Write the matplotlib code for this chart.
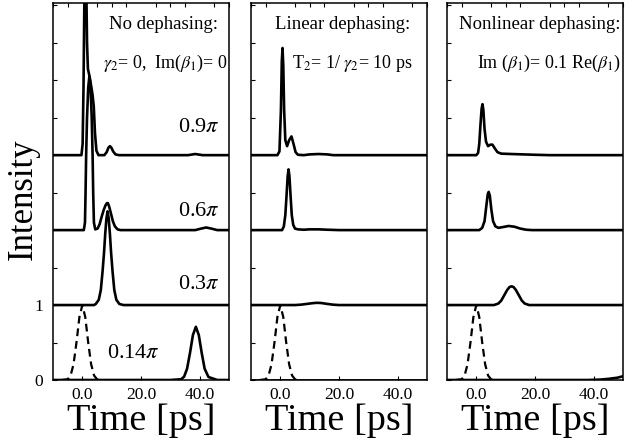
import numpy as np
import matplotlib.pyplot as plt
from matplotlib.ticker import MultipleLocator, FixedLocator, FormatStrFormatter

plt.rcParams['font.family'] = ['Liberation Serif', 'DejaVu Serif']
plt.rcParams['mathtext.fontset'] = 'stix'

# input pulse (dashed), same in all three panels
t_in = [-7, -5, -4, -3, -2, -1, 0, 1, 2, 3, 4, 5, 6]
I_in = [0, 0.01, 0.06, 0.21, 0.5, 0.84, 1.0, 0.84, 0.5, 0.21, 0.06, 0.01, 0]

# stacking of the four pulse areas
areas = ['0.14', '0.3', '0.6', '0.9']
offsets = [0, 1, 2, 3]

# --- no dephasing ---
t_nd_014 = [-10, 30, 33.7, 34.7, 35.7, 36.7, 37.7, 38.7, 39.7, 40.7, 41.7, 43, 46, 50]
I_nd_014 = [0, 0, 0.01, 0.045, 0.15, 0.36, 0.6, 0.71, 0.6, 0.36, 0.15, 0.04, 0, 0]
t_nd_03 = [-10, 4, 4.6, 5.6, 6.3, 6.9, 7.4, 7.8, 8.2, 8.6, 9.0, 9.4, 9.8, 10.3, 10.9, 11.6, 12.6, 14, 50]
I_nd_03 = [0, 0, 0.015, 0.07, 0.2, 0.45, 0.7, 0.95, 1.15, 1.25, 1.15, 0.95, 0.7, 0.45, 0.2, 0.07, 0.015, 0, 0]
t_nd_06 = [-10, 0.5, 0.9, 1.1, 1.3, 1.6, 2.0, 2.4, 2.8, 3.2, 3.5, 3.7, 3.95, 4.4, 5.2, 5.9, 6.6, 7.3, 7.9, 8.4, 8.7,
           9.1, 9.7, 10.4, 11.1, 12, 13, 38.5, 40.5, 42.2, 44, 46, 50]
I_nd_06 = [0, 0, 0.1, 0.5, 1.0, 1.5, 1.9, 2.05, 1.9, 1.5, 1.0, 0.5, 0.1, 0.01, 0.02, 0.08, 0.18, 0.27, 0.33, 0.36, 0.36,
           0.32, 0.23, 0.12, 0.05, 0.01, 0, 0, 0.02, 0.035, 0.02, 0, 0]
t_nd_09 = [-10, -0.3, 0.1, 0.4, 0.7, 1.0, 1.3, 1.6, 1.9, 2.3, 2.7, 3.1, 3.5, 3.9, 4.3, 4.8, 5.5, 7.5, 8.3, 8.9, 9.4,
           9.9, 10.5, 11.3, 12.5, 36, 38.5, 41, 50]
I_nd_09 = [0, 0, 0.15, 0.9, 2.1, 3.0, 2.4, 1.5, 1.15, 1.08, 1.0, 0.9, 0.8, 0.65, 0.3, 0.06, 0, 0, 0.04, 0.1, 0.12,
           0.1, 0.05, 0.01, 0, 0, 0.015, 0, 0]

# --- linear dephasing ---
t_ld_014 = [-10, 50]
I_ld_014 = [0, 0]
t_ld_03 = [-10, 5, 7, 9, 11, 12.5, 14, 16, 18, 20, 50]
I_ld_03 = [0, 0, 0.005, 0.015, 0.025, 0.03, 0.027, 0.015, 0.005, 0, 0]
t_ld_06 = [-10, 0.6, 1.2, 1.7, 2.1, 2.5, 2.8, 3.1, 3.5, 3.9, 4.4, 5, 6, 8, 10, 13, 16, 20, 50]
I_ld_06 = [0, 0, 0.05, 0.2, 0.45, 0.72, 0.81, 0.72, 0.45, 0.2, 0.07, 0.02, 0.01, 0.005, 0.01, 0.01, 0.005, 0, 0]
t_ld_09 = [-10, -1, -0.3, 0.2, 0.5, 0.75, 1.0, 1.3, 1.7, 2.3, 3.0, 3.8, 4.5, 5.2, 6, 8, 10, 13, 16, 18, 50]
I_ld_09 = [0, 0, 0.05, 0.6, 1.25, 1.43, 1.2, 0.6, 0.2, 0.12, 0.2, 0.25, 0.15, 0.04, 0.005, 0, 0.01, 0.015, 0.01, 0, 0]

# --- nonlinear dephasing ---
t_nl_014 = [-10, 38, 42, 45, 48, 50]
I_nl_014 = [0, 0, 0.005, 0.015, 0.03, 0.05]
t_nl_03 = [-10, 6, 7.5, 8.5, 9.5, 10.5, 11.3, 12, 12.7, 13.5, 14.5, 15.5, 16.5, 18, 50]
I_nl_03 = [0, 0, 0.02, 0.06, 0.13, 0.2, 0.24, 0.25, 0.24, 0.2, 0.13, 0.06, 0.02, 0, 0]
t_nl_06 = [-10, 1, 2, 2.8, 3.4, 3.9, 4.2, 4.6, 5.1, 5.7, 6.5, 7.5, 9, 11, 13, 15, 17, 19, 50]
I_nl_06 = [0, 0, 0.03, 0.12, 0.32, 0.48, 0.51, 0.46, 0.28, 0.12, 0.05, 0.03, 0.04, 0.055, 0.045, 0.02, 0.005, 0, 0]
t_nl_09 = [-10, 0, 0.6, 1.0, 1.4, 1.8, 2.1, 2.4, 2.8, 3.3, 4, 4.8, 5.5, 6.3, 7.2, 8.5, 12, 16, 20, 25, 50]
I_nl_09 = [0, 0, 0.03, 0.15, 0.4, 0.62, 0.68, 0.6, 0.35, 0.18, 0.12, 0.14, 0.14, 0.09, 0.04, 0.02, 0.015, 0.01, 0.005, 0, 0]

panels = [
    [(t_nd_014, I_nd_014), (t_nd_03, I_nd_03), (t_nd_06, I_nd_06), (t_nd_09, I_nd_09)],
    [(t_ld_014, I_ld_014), (t_ld_03, I_ld_03), (t_ld_06, I_ld_06), (t_ld_09, I_ld_09)],
    [(t_nl_014, I_nl_014), (t_nl_03, I_nl_03), (t_nl_06, I_nl_06), (t_nl_09, I_nl_09)],
]
titles = ['No dephasing:', 'Linear dephasing:', 'Nonlinear dephasing:']
subtitles = [r'$\gamma_2$= 0,  Im($\beta_1$)= 0',
             r'T$_2$= 1/ $\gamma_2$= 10 ps',
             r'Im ($\beta_1$)= 0.1 Re($\beta_1$)']
# right ends of the two text lines, axes fraction
title_x = [0.94, 0.905, 0.985]
sub_x = [0.99, 0.917, 0.985]

W, H = 636, 445
fig = plt.figure(figsize=(W / 100, H / 100), dpi=100)
lefts = [53, 251, 447]

for k in range(3):
    ax = fig.add_axes([lefts[k] / W, 65 / H, 176 / W, 377 / H])
    ax.plot(t_in, I_in, color='black', lw=1.6, ls=(0, (3.5, 2.2)))
    for (t, I), off in zip(panels[k], offsets):
        ax.plot(t, np.array(I) + off, color='black', lw=1.9, solid_joinstyle='round')
    ax.set_xlim(-10, 50)
    ax.set_ylim(0, 5.03)
    for s in ax.spines.values():
        s.set_linewidth(1.1)

    ax.xaxis.set_major_locator(FixedLocator([0, 20, 40]))
    ax.xaxis.set_major_formatter(FormatStrFormatter('%.1f'))
    ax.xaxis.set_minor_locator(MultipleLocator(5))
    ax.tick_params(axis='x', which='major', direction='in', length=3, width=0.8, pad=5, labelsize=12.5)
    ax.tick_params(axis='x', which='minor', direction='in', length=3, width=0.8, top=True, bottom=False)
    ax.yaxis.set_major_locator(FixedLocator([0, 1]))
    ax.yaxis.set_minor_locator(MultipleLocator(0.5))
    ax.tick_params(axis='y', which='both', direction='in', length=3, width=0.8, pad=7, labelsize=12.5)
    if k > 0:
        ax.set_yticklabels([])

    ax.text(title_x[k], 0.942, titles[k], transform=ax.transAxes, fontsize=13.5, va='center', ha='right')
    ax.text(sub_x[k], 0.84, subtitles[k], transform=ax.transAxes, fontsize=13, va='center', ha='right')
    ax.text(0.5, -0.109, 'Time [ps]', transform=ax.transAxes, fontsize=27.5, va='center', ha='center')

    if k == 0:
        ax.text(47, 3.37, r'0.9$\pi$', fontsize=16, ha='right', va='center')
        ax.text(47, 2.25, r'0.6$\pi$', fontsize=16, ha='right', va='center')
        ax.text(47, 1.27, r'0.3$\pi$', fontsize=16, ha='right', va='center')
        ax.text(17.3, 0.35, r'0.14$\pi$', fontsize=16, ha='center', va='center')

fig.text(23 / W, (H - 199) / H, 'Intensity', rotation=90, fontsize=25, ha='center', va='center')

fig.savefig('out.png', dpi=100)
